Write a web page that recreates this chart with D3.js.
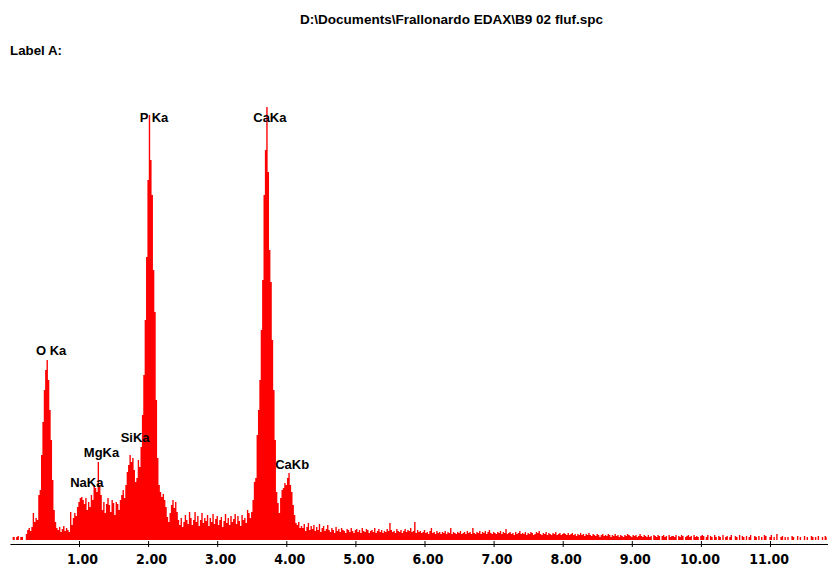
<!DOCTYPE html>
<html><head><meta charset="utf-8">
<script src="https://cdn.jsdelivr.net/npm/d3@7"></script>
<style>body{margin:0;background:#fff}svg{display:block}</style>
</head><body>
<svg id="chart" width="828" height="567"></svg>
<script>
// ---------- data ----------
const fileTitle = "D:\\Documents\\Frallonardo EDAX\\B9 02 fluf.spc";
const labelText = "Label A:";
const startEnergy = 0.04;   // keV of first channel
const channelWidth = 0.02;  // keV per channel
const counts = [
  3,3,0,3,4,0,3,3,0,0,
  6,10,12,9,13,27,18,22,20,45,
  50,85,118,150,170,180,160,130,100,60,
  30,18,12,10,13,8,11,14,9,12,
  10,8,28,15,22,27,24,33,38,42,
  43,40,36,42,30,38,33,45,40,55,
  52,48,78,55,45,30,38,27,36,42,
  35,28,40,37,25,38,36,30,40,45,
  50,42,55,68,75,85,78,82,70,58,
  62,80,73,93,125,165,220,283,360,425,
  380,345,270,228,140,82,55,48,43,46,
  40,33,23,18,27,35,40,32,38,28,
  20,15,22,13,18,25,20,16,28,22,
  15,20,28,18,24,14,20,27,17,22,
  19,25,14,22,18,26,16,21,24,15,
  20,23,13,19,26,17,22,15,24,18,
  21,26,16,24,19,14,25,20,22,17,
  30,27,22,28,40,58,62,105,130,160,
  210,260,345,390,433,368,290,258,200,150,
  100,48,37,27,42,50,52,57,55,62,
  67,55,48,35,25,17,15,18,12,14,
  12,16,9,13,17,10,14,11,15,9,
  13,10,16,8,12,14,9,11,15,10,
  8,12,10,7,13,9,11,8,12,10,
  9,7,11,10,8,12,9,7,10,11,
  8,10,7,12,9,8,11,10,7,9,
  10,8,12,7,9,11,8,10,7,9,
  8,11,9,17,10,8,9,7,11,9,
  8,10,7,9,11,8,10,9,12,8,
  9,18,7,10,8,9,7,8,10,7,
  8,6,9,12,7,8,6,9,7,8,
  6,8,7,9,6,8,7,12,6,8,
  7,6,8,7,9,6,7,8,6,9,
  7,8,6,12,7,6,8,7,9,6,
  8,7,9,6,8,10,7,6,8,7,
  6,8,7,9,6,8,7,11,6,7,
  8,6,7,5,8,6,7,9,6,7,
  6,8,5,7,6,8,7,5,6,8,
  7,9,6,5,7,6,8,5,7,6,
  5,7,6,8,5,6,7,5,6,7,
  6,5,7,5,6,7,5,6,4,6,
  5,7,5,6,4,6,5,7,5,4,
  6,5,4,6,5,3,5,6,4,5,
  4,6,5,3,5,4,6,4,5,3,
  5,4,3,5,4,6,5,4,3,5,
  4,5,3,4,6,4,3,5,4,3,
  5,3,4,0,5,4,3,5,4,0,
  4,5,3,4,0,5,3,4,4,3,
  5,0,4,3,5,4,0,3,4,5,
  3,4,0,5,3,4,3,0,4,5,
  4,0,3,5,0,4,3,0,5,3,
  0,4,3,0,5,0,3,4,0,3,
  5,0,0,4,3,0,5,0,4,3,
  0,4,0,3,5,0,0,4,3,0,
  4,0,3,0,5,4,0,0,3,5,
  0,3,0,6,0,0,3,4,0,3,
  0,3,0,0,4,3,0,0,4,0,
  3,0,0,4,0,3,0,0,4,3,
  0,3,0,4,0,0,3,0,4,3
];
const peakNames = ["O Ka", "NaKa", "MgKa", "SiKa", "P Ka", "CaKa", "CaKb"];
const peakEnergies = [0.525, 1.041, 1.254, 1.740, 2.013, 3.690, 4.012];
const tickValues = [1, 2, 3, 4, 5, 6, 7, 8, 9, 10, 11];

// ---------- layout ----------
const labelLift = {"O Ka": 5, "NaKa": 10, "MgKa": 5, "SiKa": 13, "P Ka": 5, "CaKa": 5, "CaKb": 4};
const labelTopLimit = 122;

const svg = d3.select("#chart");
const x = d3.scaleLinear().domain([0, 12]).range([9.9, 9.9 + 12 * 69.1]);
const y = d3.scaleLinear().domain([0, 440]).range([540, 100]);

const spectrum = counts.map((c, i) => ({e: startEnergy + i * channelWidth, c: c}));

svg.append("path")
  .datum(spectrum)
  .attr("fill", "#ff0000")
  .attr("d", d3.area().curve(d3.curveStep)
    .x(d => x(d.e)).y0(y(0)).y1(d => y(d.c)));

// axis
const axis = d3.axisBottom(x).tickValues(tickValues)
  .tickFormat(d3.format(".2f")).tickSizeOuter(0).tickSizeInner(3);
const gAxis = svg.append("g").attr("transform", "translate(0,544)").call(axis);
gAxis.select(".domain").attr("stroke", "#000");
gAxis.selectAll(".tick line").attr("stroke", "#000").attr("y1", -3).attr("y2", 3);
gAxis.selectAll(".tick text")
  .attr("x", 18.5).attr("y", 19.5).attr("dy", 0)
  .attr("text-anchor", "end")
  .attr("fill", "#000")
  .style("font-family", "'Liberation Sans Narrow', 'DejaVu Sans Condensed', 'Liberation Sans', sans-serif")
  .style("font-weight", "bold").style("font-size", "14px");

// peak labels
peakNames.forEach((name, i) => {
  const E = peakEnergies[i];
  const near = spectrum.filter(d => Math.abs(d.e - E) <= 0.031);
  const top = d3.max(near, d => d.c);
  const yy = Math.max(labelTopLimit, y(top) - labelLift[name]);
  svg.append("text")
    .attr("x", x(E) + 5).attr("y", yy)
    .attr("text-anchor", "middle")
    .style("font-family", "'Liberation Sans', Arial, sans-serif")
    .style("font-weight", "bold").style("font-size", "13px")
    .attr("fill", "#000")
    .text(name);
});

// title and label
svg.append("text").attr("x", 300).attr("y", 24)
  .attr("textLength", 303).attr("lengthAdjust", "spacingAndGlyphs")
  .style("font-family", "'Liberation Sans', Arial, sans-serif")
  .style("font-weight", "bold").style("font-size", "13px")
  .text(fileTitle);
svg.append("text").attr("x", 10).attr("y", 55)
  .attr("textLength", 52).attr("lengthAdjust", "spacingAndGlyphs")
  .style("font-family", "'Liberation Sans', Arial, sans-serif")
  .style("font-weight", "bold").style("font-size", "12px")
  .text(labelText);
</script>
</body></html>
